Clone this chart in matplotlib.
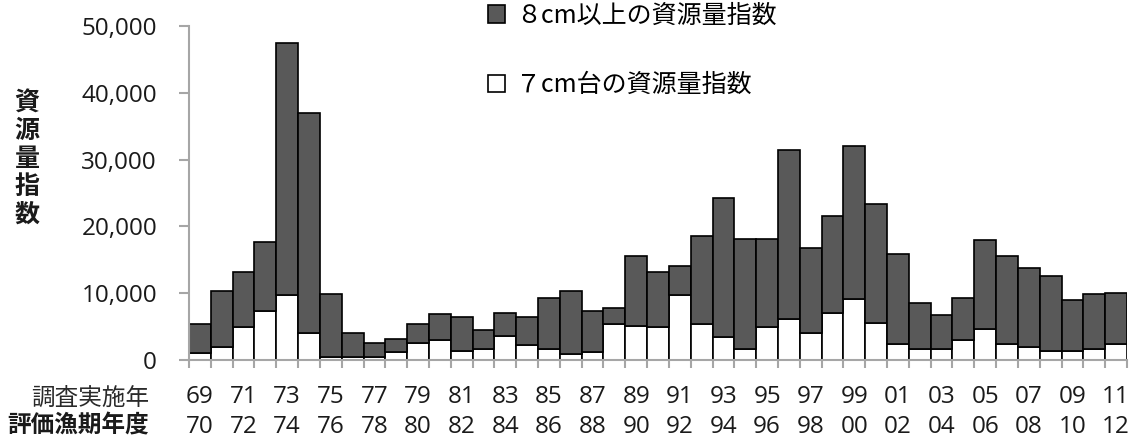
import matplotlib
matplotlib.use("Agg")
import matplotlib.pyplot as plt
from matplotlib.patches import Patch
from matplotlib.transforms import blended_transform_factory
import numpy as np

plt.rcParams['font.family'] = ['Noto Sans CJK JP', 'DejaVu Sans']

survey_years = ["69", "70", "71", "72", "73", "74", "75", "76", "77", "78",
                "79", "80", "81", "82", "83", "84", "85", "86", "87", "88",
                "89", "90", "91", "92", "93", "94", "95", "96", "97", "98",
                "99", "00", "01", "02", "03", "04", "05", "06", "07", "08",
                "09", "10", "11"]
eval_years = ["70", "71", "72", "73", "74", "75", "76", "77", "78", "79",
              "80", "81", "82", "83", "84", "85", "86", "87", "88", "89",
              "90", "91", "92", "93", "94", "95", "96", "97", "98", "99",
              "00", "01", "02", "03", "04", "05", "06", "07", "08", "09",
              "10", "11", "12"]

# 7cm台の資源量指数 (white, bottom)
index_7cm = [1000, 1950, 4900, 7400, 9800, 4000, 500, 400, 400, 1250,
             2500, 3050, 1300, 1700, 3600, 2250, 1650, 950, 1250, 5450,
             5100, 4900, 9700, 5450, 3400, 1650, 4900, 6100, 4000, 7000,
             9100, 5500, 2450, 1650, 1650, 3050, 4650, 2450, 1900, 1400,
             1300, 1650, 2450]
# 8cm以上の資源量指数 (dark, stacked on top)
index_8cm = [4350, 8450, 8200, 10300, 37700, 33000, 9400, 3700, 2200, 1900,
             2850, 3800, 5200, 2750, 3500, 4250, 7600, 9450, 6100, 2300,
             10400, 8200, 4400, 13050, 20800, 16500, 13250, 25300, 12700, 14600,
             23000, 17850, 13350, 6950, 5150, 6200, 13250, 13050, 11800, 11150,
             7650, 8200, 7650]

label_8 = "８cm以上の資源量指数"
label_7 = "７cm台の資源量指数"

W, H = 1135, 441
fig = plt.figure(figsize=(W / 100, H / 100), dpi=100)
ax = fig.add_axes([189 / W, 1 - 360 / H, (1127 - 189) / W, (360 - 26) / H])

num_font = ['Open Sans', 'DejaVu Sans']
txt_color = "#1a1a1a"

x = np.arange(len(survey_years))
dark = "#595959"
ax.bar(x, index_7cm, width=1.0, color="white", edgecolor="black", linewidth=1.2, zorder=2)
ax.bar(x, index_8cm, width=1.0, bottom=index_7cm, color=dark, edgecolor="black",
       linewidth=1.2, zorder=2)

ax.set_xlim(-0.5, len(x) - 0.5)
ax.set_ylim(0, 50000)

for s in ["top", "right"]:
    ax.spines[s].set_visible(False)
for s in ["left", "bottom"]:
    ax.spines[s].set_color("#a6a6a6")
    ax.spines[s].set_linewidth(1.5)
ax.spines["bottom"].set_zorder(3)

yt = [0, 10000, 20000, 30000, 40000, 50000]
ax.set_yticks(yt)
ax.set_yticklabels([f"{v:,}" for v in yt], fontsize=17.5, color=txt_color,
                   family=num_font)
ax.tick_params(axis="y", length=7, width=1.5, color="#a6a6a6", pad=16)

ax.set_xticks(np.arange(-0.5, len(x), 1.0))
ax.set_xticklabels([])
ax.tick_params(axis="x", which="major", length=6, width=1.5, color="#a6a6a6")

tr = blended_transform_factory(ax.transData, fig.transFigure)
for i in range(0, len(x), 2):
    ax.text(x[i], 1 - 397 / H, survey_years[i], transform=tr, ha="center",
            va="center", fontsize=17.5, color=txt_color, family=num_font)
    ax.text(x[i], 1 - 427 / H, eval_years[i], transform=tr, ha="center",
            va="center", fontsize=17.5, color=txt_color, family=num_font)

# y label (vertical stacked characters)
fig.text(27 / W, 1 - 159 / H, "資\n源\n量\n指\n数", ha="center", va="center",
         fontsize=18, fontweight="bold", linespacing=1.2, color=txt_color)
# x row labels
fig.text(149 / W, 1 - 398 / H, "調査実施年", ha="right", va="center", fontsize=17,
         color="#2a2a2a")
fig.text(149 / W, 1 - 425 / H, "評価漁期年度", ha="right", va="center", fontsize=17,
         fontweight="bold", color=txt_color)

handles = [Patch(facecolor=dark, edgecolor="black", linewidth=1.2),
           Patch(facecolor="white", edgecolor="black", linewidth=1.2)]
fig.legend(handles, [label_8, label_7], loc="upper left",
           bbox_to_anchor=(485 / W, 1 + 0 / H), frameon=False, fontsize=18,
           handlelength=0.7, handleheight=0.7, handletextpad=0.45,
           labelspacing=1.75, borderpad=0.1, borderaxespad=0)

fig.savefig("out.png", dpi=100)
